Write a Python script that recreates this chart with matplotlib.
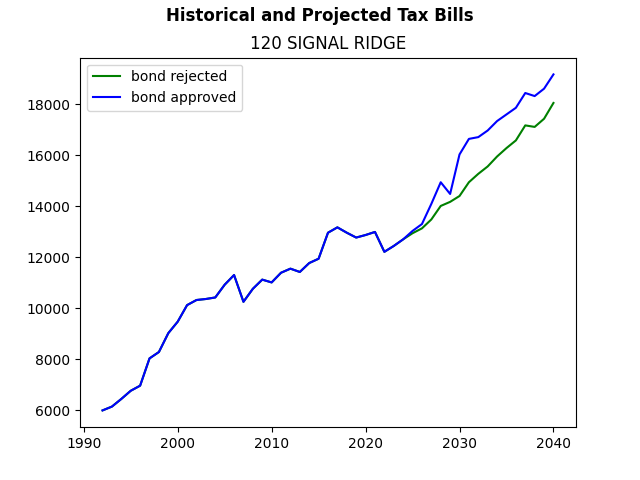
import matplotlib
matplotlib.use('Agg')
import matplotlib.pyplot as plt

years = list(range(1992, 2041))

# shared history through 2024
history = [6000, 6150, 6450, 6770, 6970, 8040, 8290, 9030, 9480, 10130,
           10330, 10370, 10430, 10930, 11310, 10260, 10770, 11130, 11020, 11400,
           11560, 11430, 11780, 11950, 12970, 13180, 12970, 12780, 12880, 13000,
           12220, 12450, 12710]

rejected_future = [12950, 13140, 13490, 14020, 14180, 14410, 14950, 15280, 15570, 15960,
                   16290, 16590, 17180, 17120, 17440, 18060]
approved_future = [13040, 13310, 14100, 14950, 14490, 16040, 16650, 16720, 16980, 17350,
                   17610, 17870, 18450, 18330, 18620, 19180]

rejected = history + rejected_future
approved = history + approved_future

fig, ax = plt.subplots(figsize=(6.4, 4.8), dpi=100)
ax.plot(years, rejected, color='green', label='bond rejected')
ax.plot(years, approved, color='blue', label='bond approved')
ax.set_title('120 SIGNAL RIDGE')
fig.suptitle('Historical and Projected Tax Bills', fontweight='bold', y=0.985)
ax.legend(loc='upper left')
fig.savefig('out.png')
